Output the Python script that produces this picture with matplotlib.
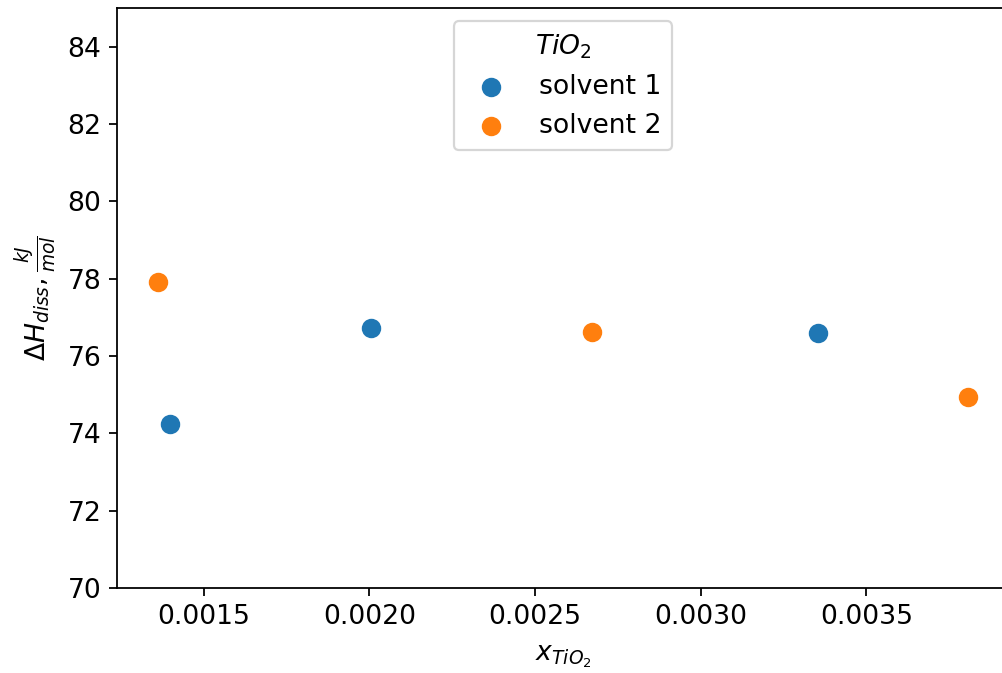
import matplotlib
matplotlib.use("Agg")
import matplotlib.pyplot as plt

# mole fraction of TiO2 and dissolution enthalpy, kJ/mol
x_solvent1 = [0.001398, 0.002005, 0.003353]
dh_solvent1 = [74.25, 76.73, 76.60]
x_solvent2 = [0.001361, 0.002673, 0.003808]
dh_solvent2 = [77.92, 76.63, 74.94]

plt.rcParams['font.size'] = 12

fig = plt.figure(figsize=(1002 / 160, 673 / 160), dpi=160)
ax = fig.add_axes([0.1168, 0.1263, 0.8902, 0.8618])

ax.scatter(x_solvent1, dh_solvent1, s=60, label='solvent 1')
ax.scatter(x_solvent2, dh_solvent2, s=60, label='solvent 2')

ax.set_ylim(70, 85)
ax.set_xlabel(r'$x_{TiO_2}$', labelpad=6)
ax.set_ylabel(r'$\Delta H_{diss}, \frac{kJ}{mol}$')
ax.legend(title=r'$TiO_2$', loc='upper center')

fig.savefig('out.png', dpi=160)
